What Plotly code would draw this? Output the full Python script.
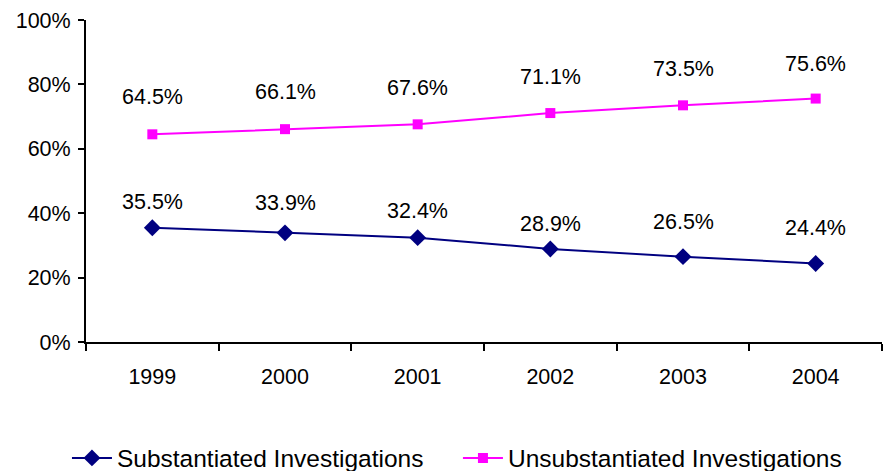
import plotly.graph_objects as go

years = ["1999", "2000", "2001", "2002", "2003", "2004"]
substantiated = [35.5, 33.9, 32.4, 28.9, 26.5, 24.4]
unsubstantiated = [64.5, 66.1, 67.6, 71.1, 73.5, 75.6]
y_ticks = [0, 20, 40, 60, 80, 100]
y_tick_labels = ["0%", "20%", "40%", "60%", "80%", "100%"]

# label offsets in pixels above the point (style)
sub_label_shift = [26, 30, 27, 25, 35, 35]
unsub_label_shift = [37, 37, 36, 36, 36, 35]

FONT = "Liberation Sans, Arial, sans-serif"
NAVY = "#000080"
MAGENTA = "#FF00FF"
TXT = 21.5

fig = go.Figure()
fig.add_trace(go.Scatter(
    x=years, y=substantiated, mode="lines+markers",
    name="Substantiated Investigations",
    line=dict(color=NAVY, width=2),
    marker=dict(symbol="diamond", size=13, color=NAVY),
    legend="legend",
))
fig.add_trace(go.Scatter(
    x=years, y=unsubstantiated, mode="lines+markers",
    name="Unsubstantiated Investigations",
    line=dict(color=MAGENTA, width=2),
    marker=dict(symbol="square", size=10, color=MAGENTA),
    legend="legend2",
))

annotations = []
for vals, shifts in ((substantiated, sub_label_shift), (unsubstantiated, unsub_label_shift)):
    for i, (v, s) in enumerate(zip(vals, shifts)):
        annotations.append(dict(
            x=i, y=v, xref="x", yref="y", text=f"{v:.1f}%",
            showarrow=False, yshift=s, xanchor="center", yanchor="middle",
            font=dict(family=FONT, size=TXT, color="#000000"),
        ))

legend_common = dict(
    orientation="h", xref="container", yref="container",
    xanchor="left", y=0.0281, yanchor="middle",
    font=dict(family=FONT, size=24.5, color="#000000"),
    itemwidth=40, bgcolor="rgba(0,0,0,0)",
)

# page body has an 8px default margin, so the figure is sized to fit the window
fig.update_layout(
    width=884, height=463,
    margin=dict(l=78, r=10, t=12, b=129, autoexpand=False),
    paper_bgcolor="white", plot_bgcolor="white",
    font=dict(family=FONT, size=TXT, color="#000000"),
    showlegend=True,
    legend=dict(x=0.0667, **legend_common),
    legend2=dict(x=0.509, **legend_common),
    annotations=annotations,
)
fig.update_xaxes(
    type="category", range=[-0.5, 5.5], automargin=False,
    showline=True, linecolor="black", linewidth=2,
    ticks="outside", tickson="boundaries", ticklen=7, tickwidth=2, tickcolor="black",
    ticklabelstandoff=14,
    showgrid=False, zeroline=False,
    tickfont=dict(family=FONT, size=TXT, color="#000000"),
)
fig.update_yaxes(
    range=[0, 100], tickvals=y_ticks, ticktext=y_tick_labels, automargin=False,
    showline=True, linecolor="black", linewidth=2,
    ticks="outside", ticklen=6, tickwidth=2, tickcolor="black",
    ticklabelstandoff=3,
    showgrid=False, zeroline=False,
    tickfont=dict(family=FONT, size=TXT, color="#000000"),
)

fig.write_html("out.html")
